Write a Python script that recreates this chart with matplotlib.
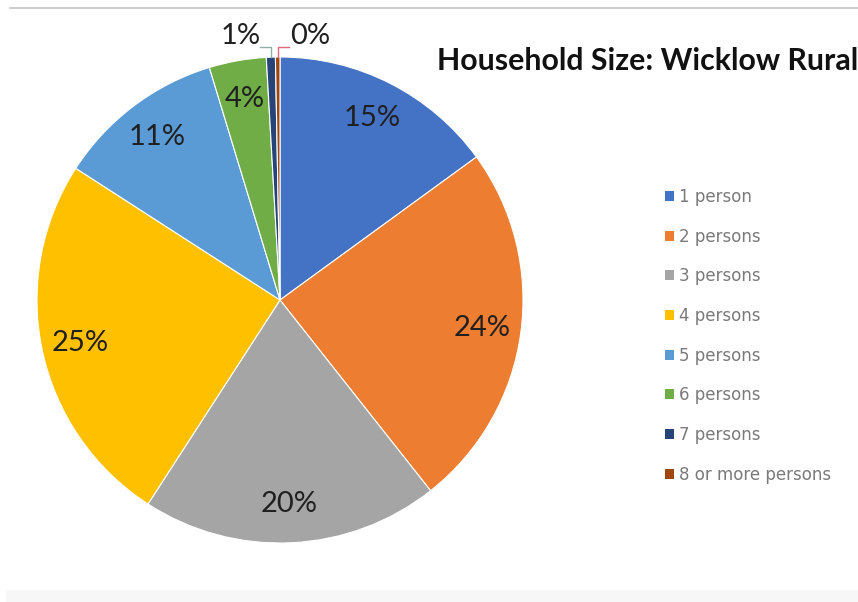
import numpy as np
import matplotlib
matplotlib.use("Agg")
import matplotlib.pyplot as plt
from matplotlib.patches import Rectangle
from matplotlib.lines import Line2D

categories = ["1 person", "2 persons", "3 persons", "4 persons", "5 persons",
              "6 persons", "7 persons", "8 or more persons"]
values = [15.0, 24.4, 19.8, 25.0, 11.2, 3.8, 0.6, 0.3]
pct_labels = ["15%", "24%", "20%", "25%", "11%", "4%", "1%", "0%"]
colors = ["#4472C4", "#ED7D31", "#A5A5A5", "#FFC000", "#5B9BD5", "#70AD47",
          "#264478", "#9E480E"]
title = "Household Size: Wicklow Rural"

plt.rcParams['font.family'] = ['Lato', 'DejaVu Sans']

W, H = 858, 602
fig = plt.figure(figsize=(W / 100, H / 100), dpi=100)
fig.patch.set_facecolor("white")

# decorations: top rule, bottom band
fig.add_artist(Line2D([10 / W, 1], [1 - 8 / H, 1 - 8 / H], color="#c4c4c4", lw=1.2))
fig.add_artist(Rectangle((6 / W, 0), 1, 12 / H, color="#f7f7f7", lw=0))

cx, cy, r = 280, 300, 243
ax = fig.add_axes([(cx - r) / W, (H - cy - r) / H, 2 * r / W, 2 * r / H])

wedges, _ = ax.pie(values, colors=colors, startangle=90, counterclock=False,
                   radius=1, wedgeprops=dict(edgecolor="white", linewidth=0.8))
ax.set_xlim(-1, 1)
ax.set_ylim(-1, 1)
ax.set_aspect("equal")
ax.axis("off")

total = sum(values)
cum = 0.0
for i, v in enumerate(values):
    mid = (cum + v / 2) / total
    cum += v
    ang = np.deg2rad(90 - 360 * mid)
    x, y = np.cos(ang), np.sin(ang)
    if i < 6:
        d = 0.84
        ax.text(d * x, d * y, pct_labels[i], ha="center", va="center",
                fontsize=21, color="#202020")
    else:
        ly = 1.04
        if i == 6:
            ax.plot([x, x, x - 0.045], [y, ly, ly], color="#8fb0a8", lw=1, clip_on=False)
            ax.text(x - 0.04, 1.085, pct_labels[i], ha="right", va="center",
                    fontsize=21, color="#202020")
        else:
            ax.plot([x, x, x + 0.045], [y, ly, ly], color="#e06a78", lw=1, clip_on=False)
            ax.text(x + 0.05, 1.085, pct_labels[i], ha="left", va="center",
                    fontsize=21, color="#202020")

fig.text(437 / W, 1 - 61 / H, title, ha="left", va="center",
         fontsize=21.8, fontweight="bold", color="#111111")

handles = [Rectangle((0, 0), 1, 1, facecolor=c, edgecolor="none") for c in colors]
fig.legend(handles, categories, loc="upper left",
           bbox_to_anchor=(665 / W, 1 - 188 / H), frameon=False,
           prop=dict(family="DejaVu Sans", size=12), labelcolor="#7a7a7a",
           handlelength=0.55, handleheight=0.55,
           handletextpad=0.3, labelspacing=1.30, borderpad=0, borderaxespad=0)

fig.savefig("out.png", dpi=100, facecolor="white")
